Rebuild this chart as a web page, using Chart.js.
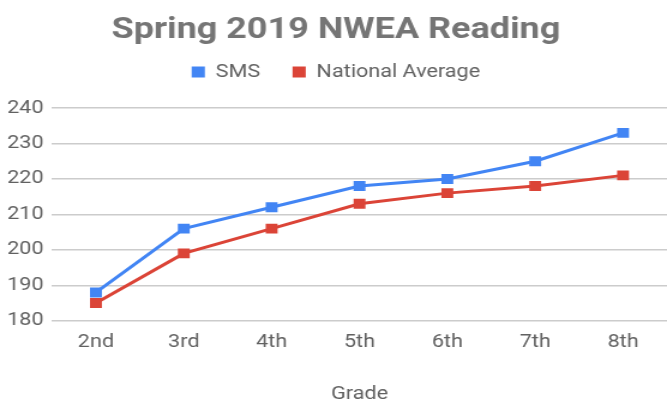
<!DOCTYPE html>
<html>
<head>
<meta charset="utf-8">
<script src="https://cdn.jsdelivr.net/npm/chart.js@4"></script>
<style>
  html, body { margin: 0; padding: 0; background: #fff; overflow: hidden; }
  /* the reference is stretched sideways, so draw narrower and widen it */
  #wrap { width: 556px; height: 407px; transform: scaleX(1.1996); transform-origin: 0 0; }
</style>
</head>
<body>
<div id="wrap"><canvas id="chart"></canvas></div>
<script>
// Data
const grades = ['2nd', '3rd', '4th', '5th', '6th', '7th', '8th'];
const smsScores = [188, 206, 212, 218, 220, 225, 233];
const nationalScores = [185, 199, 206, 213, 216, 218, 221];
const yTicks = [180, 190, 200, 210, 220, 230, 240];

const BLUE = '#4285F4';
const RED = '#DB4437';
const TEXT = '#616161';

Chart.defaults.font.family = 'Roboto, "Noto Sans", sans-serif';

// legend keeps only 10px under itself; the reference has more room
const legendGap = {
    id: 'legendGap',
    beforeInit(chart) {
        const fit = chart.legend.fit;
        chart.legend.fit = function () {
            fit.bind(chart.legend)();
            this.height += 17;
        };
    }
};

new Chart(document.getElementById('chart'), {
    type: 'line',
    data: {
        labels: grades,
        datasets: [{
            label: 'SMS',
            data: smsScores,
            borderColor: BLUE,
            backgroundColor: BLUE,
            borderWidth: 3,
            pointStyle: 'rect',
            pointRadius: 7,
            pointBorderWidth: 0,
            tension: 0
        }, {
            label: 'National Average',
            data: nationalScores,
            borderColor: RED,
            backgroundColor: RED,
            borderWidth: 3,
            pointStyle: 'rect',
            pointRadius: 7,
            pointBorderWidth: 0,
            tension: 0
        }]
    },
    plugins: [legendGap],
    options: {
        responsive: true,
        maintainAspectRatio: false,
        animation: false,
        // plot runs a little past the right edge, as in the reference
        layout: { autoPadding: false, padding: { left: -1, right: -5, top: 15, bottom: 2 } },
        plugins: {
            title: {
                display: true,
                text: 'Spring 2019 NWEA Reading',
                color: '#757575',
                font: { size: 30, weight: 'bold', lineHeight: 1 },
                padding: { top: 0, bottom: -9 }
            },
            legend: {
                labels: {
                    usePointStyle: true,
                    pointStyle: 'rect',
                    boxWidth: 11,
                    boxHeight: 11,
                    padding: 27,
                    color: TEXT,
                    font: { size: 18 }
                }
            },
            tooltip: { enabled: false }
        },
        scales: {
            x: {
                offset: true,
                grid: { display: false, drawTicks: false },
                border: { display: false },
                ticks: { color: TEXT, font: { size: 18 }, padding: 11 },
                afterFit: (axis) => { axis.paddingLeft = 0; axis.paddingRight = 0; },
                title: {
                    display: true,
                    text: 'Grade',
                    color: TEXT,
                    font: { size: 18 },
                    padding: { top: 19, bottom: 0 }
                }
            },
            y: {
                min: 180,
                max: 240,
                afterBuildTicks: (axis) => { axis.ticks = yTicks.map(v => ({ value: v })); },
                grid: { color: '#cccccc', lineWidth: 1.5, drawTicks: false },
                border: { display: false },
                ticks: { color: TEXT, font: { size: 18 }, padding: 7 }
            }
        }
    }
});
</script>
</body>
</html>
